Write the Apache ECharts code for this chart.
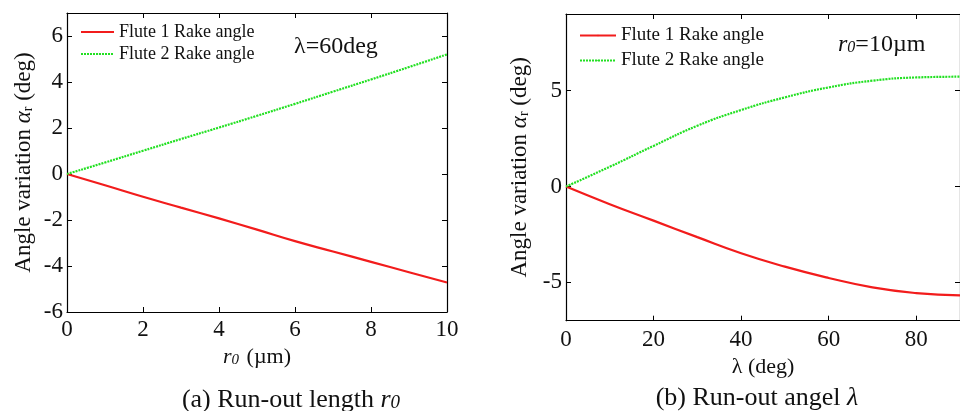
<!DOCTYPE html>
<html>
<head>
<meta charset="utf-8">
<script src="https://cdn.jsdelivr.net/npm/echarts@6/dist/echarts.min.js"></script>
<style>
html,body{margin:0;padding:0;background:#fff;}
#c{width:960px;height:411px;}
</style>
</head>
<body>
<div id="c"></div>
<script>
// ---- data ----
var seriesNames = ['Flute 1 Rake angle', 'Flute 2 Rake angle'];
// (a) run-out length r0 (µm), lambda = 60 deg
var r0Values = [0, 1, 2, 3, 4, 5, 6, 7, 8, 9, 10];
var flute1ByR0 = [0, -0.49, -0.99, -1.46, -1.93, -2.42, -2.92, -3.37, -3.82, -4.27, -4.72];
var flute2ByR0 = [0, 0.5, 1.01, 1.52, 2.02, 2.53, 3.05, 3.58, 4.11, 4.65, 5.2];
var r0Ticks = [0, 2, 4, 6, 8, 10];
var leftYTicks = [-6, -4, -2, 0, 2, 4, 6];
// (b) run-out angle lambda (deg), r0 = 10 µm
var lambdaValues = [0, 10, 20, 30, 40, 50, 60, 70, 80, 90];
var flute1ByLambda = [0, -0.92, -1.78, -2.64, -3.48, -4.18, -4.77, -5.26, -5.56, -5.68];
var flute2ByLambda = [0, 1.03, 2.12, 3.17, 3.99, 4.65, 5.17, 5.52, 5.69, 5.73];
var lambdaTicks = [0, 20, 40, 60, 80];
var rightYTicks = [-5, 0, 5];

function pairs(xs, ys){ return xs.map(function(x,i){ return [x, ys[i]]; }); }

var FONT = 'Liberation Serif';
var TXT = '#111';
var RED = '#f21c1c';
var GREEN = '#22e022';

function baseAxis(extra){
  var a = {
    type: 'value',
    axisLine: {show: true, onZero: false, lineStyle: {color: '#000', width: 1.2}},
    axisTick: {show: true, inside: true, length: 5, lineStyle: {color: '#000', width: 1}},
    splitLine: {show: false},
    axisLabel: {color: TXT, fontFamily: FONT, fontSize: 23},
    nameTextStyle: {color: TXT, fontFamily: FONT, fontSize: 21}
  };
  for (var k in extra) {
    if (typeof extra[k] === 'object' && !Array.isArray(extra[k]) && a[k] && typeof a[k] === 'object') {
      a[k] = Object.assign({}, a[k], extra[k]);
    } else a[k] = extra[k];
  }
  return a;
}

var yNameRich = {
  a: {fontFamily: FONT, fontSize: 23, fontStyle: 'italic', color: TXT},
  s: {fontFamily: FONT, fontSize: 14, color: TXT, verticalAlign: 'bottom'}
};

var option = {
  animation: false,
  backgroundColor: '#fff',
  grid: [
    {left: 67, top: 13, width: 380, height: 299},
    {left: 566, top: 14, width: 405.7, height: 306.7}
  ],
  xAxis: [
    baseAxis({gridIndex: 0, position: 'bottom', min: 0, max: 10,
      axisTick: {customValues: r0Ticks},
      axisLabel: {customValues: r0Ticks, margin: 6},
      name: '{i|r}{s|0} (µm)', nameLocation: 'middle', nameGap: 33,
      nameTextStyle: {fontSize: 22, rich: {
        i: {fontFamily: FONT, fontSize: 22, fontStyle: 'italic', color: TXT},
        s: {fontFamily: FONT, fontSize: 15, fontStyle: 'italic', color: TXT, padding:[6,2,0,0]}
      }}}),
    baseAxis({gridIndex: 0, position: 'top', min: 0, max: 10,
      axisTick: {customValues: r0Ticks}, axisLabel: {show: false}}),
    baseAxis({gridIndex: 1, position: 'bottom', min: 0, max: 90,
      axisTick: {customValues: lambdaTicks},
      axisLabel: {customValues: lambdaTicks, margin: 8},
      name: 'λ (deg)', nameLocation: 'middle', nameGap: 33,
      nameTextStyle: {fontSize: 22}}),
    baseAxis({gridIndex: 1, position: 'top', min: 0, max: 90,
      axisTick: {customValues: lambdaTicks}, axisLabel: {show: false}})
  ],
  yAxis: [
    baseAxis({gridIndex: 0, position: 'left', min: -6, max: 7,
      axisTick: {customValues: leftYTicks},
      axisLabel: {customValues: leftYTicks, margin: 4},
      name: 'Angle variation {a|α}{s|r} (deg)', nameLocation: 'middle', nameGap: 32, nameRotate: 90,
      nameTextStyle: {fontSize: 23, rich: yNameRich}}),
    baseAxis({gridIndex: 0, position: 'right', min: -6, max: 7,
      axisTick: {customValues: leftYTicks}, axisLabel: {show: false}}),
    baseAxis({gridIndex: 1, position: 'left', min: -7, max: 9,
      axisTick: {customValues: rightYTicks},
      axisLabel: {customValues: rightYTicks, margin: 4},
      name: 'Angle variation {a|α}{s|r} (deg)', nameLocation: 'middle', nameGap: 35, nameRotate: 90,
      nameTextStyle: {fontSize: 23, rich: yNameRich}}),
    baseAxis({gridIndex: 1, position: 'right', min: -7, max: 9,
      axisTick: {customValues: rightYTicks}, axisLabel: {show: false}})
  ],
  legend: [
    {orient: 'vertical', left: 80, top: 23, itemWidth: 33, itemHeight: 2, itemGap: 4, padding: 0,
     data: seriesNames, textStyle: {fontFamily: FONT, fontSize: 18, color: TXT}, inactiveColor: '#999'},
    {orient: 'vertical', left: 579, top: 26, itemWidth: 36, itemHeight: 2, itemGap: 6, padding: 0,
     data: seriesNames, textStyle: {fontFamily: FONT, fontSize: 19, color: TXT}, inactiveColor: '#999'}
  ],
  title: [
    {text: '(a) Run-out length {i|r}{s|0}', left: 286, top: 382, textAlign: 'center',
     textStyle: {fontFamily: FONT, fontSize: 26, fontWeight: 'normal', color: TXT,
       rich: {i: {fontFamily: FONT, fontSize: 26, fontStyle: 'italic', color: TXT},
              s: {fontFamily: FONT, fontSize: 19, fontStyle: 'italic', color: TXT, padding:[6,0,0,0]}}}},
    {text: '(b) Run-out angel {i|λ}', left: 752, top: 380, textAlign: 'center',
     textStyle: {fontFamily: FONT, fontSize: 26, fontWeight: 'normal', color: TXT,
       rich: {i: {fontFamily: FONT, fontSize: 26, fontStyle: 'italic', color: TXT}}}},
    {text: 'λ=60deg', left: 289, top: 30,
     textStyle: {fontFamily: FONT, fontSize: 24, fontWeight: 'normal', color: TXT}},
    {text: '{i|r}{s|0}=10µm', left: 833, top: 28,
     textStyle: {fontFamily: FONT, fontSize: 24, fontWeight: 'normal', color: TXT,
       rich: {i: {fontFamily: FONT, fontSize: 24, fontStyle: 'italic', color: TXT},
              s: {fontFamily: FONT, fontSize: 16, fontStyle: 'italic', color: TXT, padding:[6,0,0,0]}}}}
  ],
  series: [
    {name: seriesNames[0], type: 'line', xAxisIndex: 0, yAxisIndex: 0, data: pairs(r0Values, flute1ByR0),
     showSymbol: false, symbol: 'none', smooth: true, lineStyle: {color: RED, width: 2.2}, itemStyle: {color: RED}},
    {name: seriesNames[1], type: 'line', xAxisIndex: 0, yAxisIndex: 0, data: pairs(r0Values, flute2ByR0),
     showSymbol: false, symbol: 'none', smooth: true, lineStyle: {color: GREEN, width: 2.2, type: [2, 1]}, itemStyle: {color: GREEN}},
    {name: seriesNames[0], type: 'line', xAxisIndex: 2, yAxisIndex: 2, data: pairs(lambdaValues, flute1ByLambda),
     showSymbol: false, symbol: 'none', smooth: true, lineStyle: {color: RED, width: 2.2}, itemStyle: {color: RED}},
    {name: seriesNames[1], type: 'line', xAxisIndex: 2, yAxisIndex: 2, data: pairs(lambdaValues, flute2ByLambda),
     showSymbol: false, symbol: 'none', smooth: true, lineStyle: {color: GREEN, width: 2.2, type: [2, 1]}, itemStyle: {color: GREEN}}
  ]
};

var chart = echarts.init(document.getElementById('c'), null, {renderer: 'canvas'});
chart.setOption(option);
</script>
</body>
</html>
